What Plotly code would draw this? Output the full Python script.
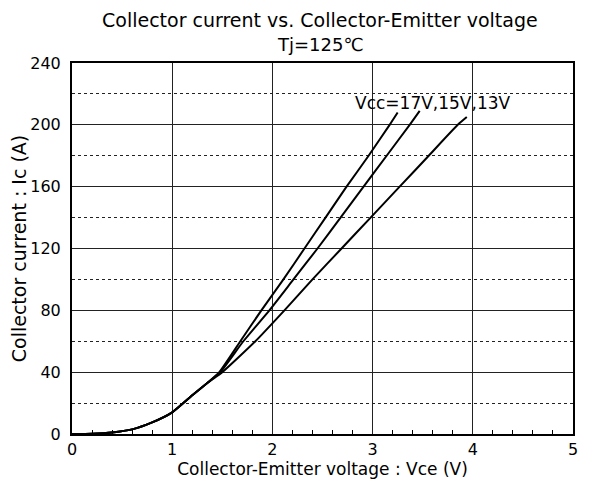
import plotly.graph_objects as go

# gemeinsamer Anfang (alle drei Kurven praktisch identisch bis ~1.35 V)
v_common = [0.0, 0.2, 0.4, 0.6, 0.8, 1.0, 1.2, 1.35]
i_common = [0.0, 0.2, 1.0, 3.0, 7.5, 14.0, 25.0, 33.0]

v_17 = [1.47, 1.68, 1.89, 2.11, 2.32, 2.53, 2.74, 2.96, 3.17, 3.25]
i_17 = [40, 60, 80, 100, 120, 140, 160, 180, 200, 208]

v_15 = [1.48, 1.71, 1.97, 2.21, 2.45, 2.68, 2.91, 3.14, 3.37, 3.47]
i_15 = [40, 60, 80, 100, 120, 140, 160, 180, 200, 209]

v_13 = [1.50, 1.83, 2.12, 2.40, 2.69, 2.98, 3.27, 3.56, 3.85, 3.94]
i_13 = [40, 60, 80, 100, 120, 140, 160, 180, 200, 205]

curves = {"17V": (v_17, i_17), "15V": (v_15, i_15), "13V": (v_13, i_13)}

FONT = "DejaVu Sans"

fig = go.Figure()
for name, (v, i) in curves.items():
    fig.add_trace(go.Scatter(
        x=v_common + v, y=i_common + i, mode="lines", name=name,
        line=dict(color="black", width=2, shape="spline", smoothing=0.5),
        showlegend=False
    ))

# Kurvenbeschriftung
fig.add_annotation(x=2.80, y=214, xref="x", yref="y", text="Vcc=17V,15V,13V",
                   showarrow=False, xanchor="left", yanchor="middle",
                   font=dict(family=FONT, size=17, color="black"))

# Titel als zwei Annotationen (Seite hat 8px Body-Rand)
fig.add_annotation(x=0.495, y=1.115, xref="paper", yref="paper",
                   text="Collector current vs. Collector-Emitter voltage",
                   showarrow=False, xanchor="center", yanchor="middle",
                   font=dict(family=FONT, size=19, color="black"))
fig.add_annotation(x=0.497, y=1.049, xref="paper", yref="paper", text="Tj=125℃",
                   showarrow=False, xanchor="center", yanchor="middle",
                   font=dict(family=FONT, size=18, color="black"))

fig.update_layout(
    width=587, height=484,
    margin=dict(l=64, r=22, t=55, b=58),
    paper_bgcolor="white", plot_bgcolor="white",
    font=dict(family=FONT, size=16, color="black"),
    xaxis=dict(range=[0, 5], dtick=1, tick0=0, showgrid=True, gridcolor="#222",
               gridwidth=1, showline=True, linecolor="black", linewidth=2, mirror=True,
               ticks="", zeroline=False, automargin=False,
               minor=dict(dtick=0.2, ticks="inside", ticklen=4, tickcolor="black", showgrid=False),
               title=dict(text="Collector-Emitter voltage : Vce (V)", standoff=4,
                          font=dict(family=FONT, size=17))),
    yaxis=dict(range=[0, 240], dtick=40, tick0=0, showgrid=True, gridcolor="#222",
               gridwidth=1, showline=True, linecolor="black", linewidth=2, mirror=True,
               ticks="", zeroline=False, ticklabelstandoff=6, automargin=False,
               minor=dict(dtick=20, showgrid=True, gridcolor="#222", griddash="dot",
                          gridwidth=1),
               title=dict(text="Collector current : Ic (A)", standoff=2,
                          font=dict(family=FONT, size=19))),
)

fig.write_html("out.html")
